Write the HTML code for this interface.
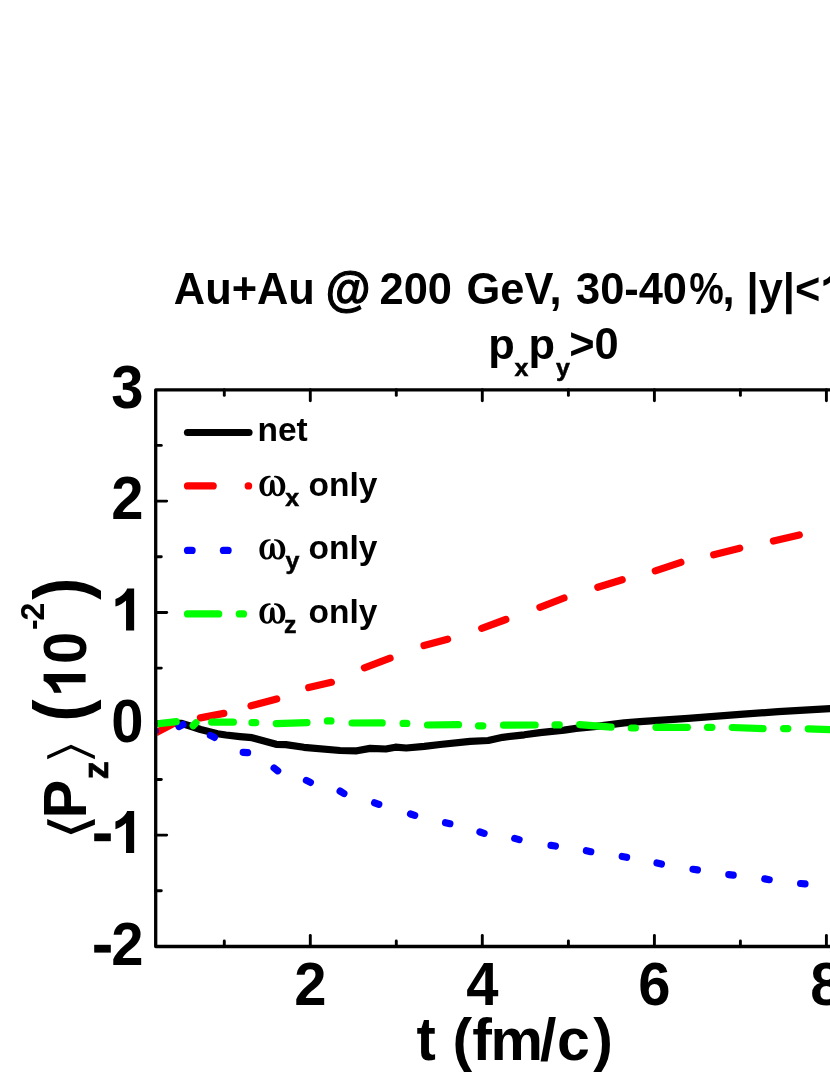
<!DOCTYPE html>
<html><head><meta charset="utf-8">
<style>
html,body{margin:0;padding:0;background:#fff;}
body{width:830px;height:1075px;overflow:hidden;}
svg{display:block;will-change:transform;}
text{font-family:"Liberation Sans",sans-serif;font-weight:bold;fill:#000;}
</style></head><body>
<svg width="830" height="1075" viewBox="0 0 830 1075">
<rect width="830" height="1075" fill="#fff"/>
<defs><clipPath id="plot"><rect x="157.3" y="391.4" width="700" height="553.5"/></clipPath></defs>
<g stroke="#000" stroke-width="2.9" stroke-linecap="round"><line x1="224.3" y1="946.5" x2="224.3" y2="940.9"/><line x1="224.3" y1="389.8" x2="224.3" y2="395.4"/><line x1="310.3" y1="946.5" x2="310.3" y2="935.5"/><line x1="310.3" y1="389.8" x2="310.3" y2="400.8"/><line x1="396.3" y1="946.5" x2="396.3" y2="940.9"/><line x1="396.3" y1="389.8" x2="396.3" y2="395.4"/><line x1="482.3" y1="946.5" x2="482.3" y2="935.5"/><line x1="482.3" y1="389.8" x2="482.3" y2="400.8"/><line x1="568.4" y1="946.5" x2="568.4" y2="940.9"/><line x1="568.4" y1="389.8" x2="568.4" y2="395.4"/><line x1="654.4" y1="946.5" x2="654.4" y2="935.5"/><line x1="654.4" y1="389.8" x2="654.4" y2="400.8"/><line x1="740.4" y1="946.5" x2="740.4" y2="940.9"/><line x1="740.4" y1="389.8" x2="740.4" y2="395.4"/><line x1="826.4" y1="946.5" x2="826.4" y2="935.5"/><line x1="826.4" y1="389.8" x2="826.4" y2="400.8"/><line x1="155.7" y1="890.8" x2="161.3" y2="890.8"/><line x1="155.7" y1="835.1" x2="166.7" y2="835.1"/><line x1="155.7" y1="779.5" x2="161.3" y2="779.5"/><line x1="155.7" y1="723.8" x2="166.7" y2="723.8"/><line x1="155.7" y1="668.1" x2="161.3" y2="668.1"/><line x1="155.7" y1="612.5" x2="166.7" y2="612.5"/><line x1="155.7" y1="556.8" x2="161.3" y2="556.8"/><line x1="155.7" y1="501.1" x2="166.7" y2="501.1"/><line x1="155.7" y1="445.4" x2="161.3" y2="445.4"/></g>
<g clip-path="url(#plot)" fill="none" stroke-linecap="round" stroke-linejoin="round" stroke-width="7.2">
<polyline stroke="#000" points="155,723.5 181,723.3 190,726 200.6,729.5 217.5,733.7 225.9,735 240,736.6 252,737.7 276.1,744.3 285.8,744.6 303.9,747.3 340,750.5 356.9,750.8 370.1,748.4 385.8,749.0 395.4,747.2 406.3,748.0 424.3,746.4 440,744.5 470.1,741.3 488.2,740.5 502.7,737.3 524.3,734.8 540,732.6 564.1,730.1 576.1,728.4 594.2,726.6 624.3,722.9 640,721.7 688.2,718.3 740,714.4 778.2,711.6 836,708.3"/>
<g stroke="#f00"><line x1="153" y1="734.4" x2="173.5" y2="723.6"/><line x1="200.4" y1="717.9" x2="223.8" y2="713.4"/><line x1="251" y1="705.8" x2="276.7" y2="699"/><line x1="308.7" y1="687.6" x2="331.4" y2="682.3"/><line x1="364.4" y1="667.8" x2="390.1" y2="658.2"/><line x1="424" y1="645.5" x2="447.6" y2="639.2"/><line x1="481.7" y1="628.3" x2="505.8" y2="619.5"/><line x1="539.9" y1="607.3" x2="564" y2="598"/><line x1="597.8" y1="587.3" x2="622.2" y2="579.8"/><line x1="655.3" y1="570.8" x2="680.9" y2="562.3"/><line x1="713.7" y1="554.8" x2="739.7" y2="548.2"/><line x1="773.4" y1="541" x2="799.3" y2="534.9"/></g>
<g stroke="#00f"><line x1="150.8" y1="731.6" x2="155.2" y2="730.8"/><line x1="179.0" y1="726.6" x2="183.0" y2="724.6"/><line x1="210.4" y1="735.4" x2="214.4" y2="737.4"/><line x1="243.2" y1="752.3" x2="247.6" y2="752.7"/><line x1="274.1" y1="768.0" x2="277.7" y2="770.8"/><line x1="306.4" y1="780.4" x2="310.4" y2="782.4"/><line x1="340.1" y1="791.1" x2="343.9" y2="793.5"/><line x1="374.6" y1="802.8" x2="378.8" y2="804.4"/><line x1="410.5" y1="814.0" x2="414.7" y2="815.4"/><line x1="445.5" y1="822.7" x2="449.9" y2="823.7"/><line x1="479.9" y1="832.0" x2="484.1" y2="833.4"/><line x1="514.7" y1="838.4" x2="519.1" y2="839.6"/><line x1="551.0" y1="845.4" x2="555.4" y2="846.0"/><line x1="586.4" y1="850.7" x2="590.8" y2="851.7"/><line x1="622.2" y1="856.5" x2="626.6" y2="857.3"/><line x1="657.0" y1="863.0" x2="661.4" y2="864.0"/><line x1="693.0" y1="869.3" x2="697.4" y2="869.9"/><line x1="728.8" y1="874.7" x2="733.2" y2="875.1"/><line x1="764.8" y1="878.9" x2="769.2" y2="879.7"/><line x1="800.6" y1="883.5" x2="805.0" y2="883.9"/></g>
<g stroke="#0f0"><line x1="150" y1="724.6" x2="176.2" y2="721.7"/><line x1="193.2" y1="725.6" x2="196" y2="722.8"/><line x1="211.7" y1="722.2" x2="233.4" y2="722.2"/><line x1="252.0" y1="722.7" x2="255.7" y2="722.7"/><line x1="276.3" y1="723.6" x2="307.0" y2="722.7"/><line x1="327.4" y1="720.9" x2="331.0" y2="720.9"/><line x1="352.1" y1="723.0" x2="382.2" y2="722.9"/><line x1="403.1" y1="723.4" x2="406.8" y2="723.4"/><line x1="427.5" y1="725" x2="458.5" y2="724.7"/><line x1="478.5" y1="725.8" x2="482.8" y2="725.8"/><line x1="503.5" y1="725.2" x2="535.2" y2="725"/><line x1="555.0" y1="724.9" x2="559.3" y2="724.9"/><line x1="579.7" y1="724.6" x2="611.1" y2="727.1"/><line x1="631.3" y1="728" x2="635.4" y2="728"/><line x1="656" y1="727.3" x2="687.4" y2="727.3"/><line x1="707.5" y1="727.3" x2="711.9" y2="727.3"/><line x1="732.3" y1="727.5" x2="763.1" y2="728.7"/><line x1="783.6" y1="728.6" x2="787.8" y2="728.6"/><line x1="808.3" y1="728.8" x2="840" y2="730"/></g>
</g>
<g stroke="#000" fill="none" stroke-width="3.3" stroke-linecap="round" stroke-linejoin="round"><polyline points="840,389.8 155.7,389.8 155.7,946.5 840,946.5"/></g>
<g font-size="58">
<text transform="translate(143.5,407.8) scale(1,1.04)" text-anchor="end">3</text>
<text transform="translate(143.5,519.1) scale(1,1.04)" text-anchor="end">2</text>
<text transform="translate(143.5,741.8) scale(1,1.04)" text-anchor="end">0</text>
<path d="M22.9,0 L22.9,-42 L15.9,-42 C14.3,-37.5 9.5,-33.5 4.2,-31.5 L4.2,-23.9 C8.5,-25.3 12.3,-27.5 14.8,-30.1 L14.8,0 Z" transform="translate(111.24,630.5) scale(1.0000)" fill="#000"/>
<path d="M22.9,0 L22.9,-42 L15.9,-42 C14.3,-37.5 9.5,-33.5 4.2,-31.5 L4.2,-23.9 C8.5,-25.3 12.3,-27.5 14.8,-30.1 L14.8,0 Z" transform="translate(111.24,853.1) scale(1.0000)" fill="#000"/>
<text transform="translate(143.5,964.5) scale(1,1.04)" text-anchor="end">2</text>
<rect x="94.2" y="833.4" width="16.6" height="7.8" fill="#000"/>
<rect x="94.2" y="944.8" width="16.6" height="7.8" fill="#000"/>
<text transform="translate(310.3,1004.5) scale(1,1.04)" text-anchor="middle">2</text>
<text transform="translate(482.3,1004.5) scale(1,1.04)" text-anchor="middle">4</text>
<text transform="translate(654.4,1004.5) scale(1,1.04)" text-anchor="middle">6</text>
<text transform="translate(826.4,1004.5) scale(1,1.04)" text-anchor="middle">8</text>
<text transform="translate(416.5,1059.5) scale(1,1.05)">t</text>
<text transform="translate(452.6,1059.5) scale(1,1.0)" font-size="59">(f<tspan dx="-1.3">m</tspan><tspan dx="-3">/</tspan><tspan dx="0.6">c</tspan><tspan dx="3.4">)</tspan></text>
</g>
<g font-size="43.4">
<text transform="translate(173.8,303.8) scale(1,1.04)">Au+Au</text>
<text transform="translate(325.8,306.3) scale(1.056,1.11)" stroke="#000" stroke-width="1.1">@</text>
<text transform="translate(379.6,303.8) scale(1,1.04)">200 <tspan dx="2.5">GeV,</tspan></text>
<text transform="translate(576.0,303.8) scale(1,1.04)">30-40</text>
<text transform="translate(689.2,303.8) scale(0.896,1.04)">%</text>
<text transform="translate(722.4,303.8) scale(1,1.04)">, |y|&lt;</text>
<path d="M22.9,0 L22.9,-42 L15.9,-42 C14.3,-37.5 9.5,-33.5 4.2,-31.5 L4.2,-23.9 C8.5,-25.3 12.3,-27.5 14.8,-30.1 L14.8,0 Z" transform="translate(820.3,303.8) scale(0.7483)" fill="#000"/>
<text transform="translate(488.2,358.6) scale(1,0.985)">p</text>
<text transform="translate(514.6,376.0) scale(1,0.985)" font-size="25" stroke="#000" stroke-width="0.5">x</text>
<text transform="translate(528.6,358.6) scale(1,0.985)">p</text>
<text transform="translate(556.0,376.0) scale(1,0.985)" font-size="25" stroke="#000" stroke-width="0.5">y</text>
<text transform="translate(569.2,358.6) scale(1,1.04)">&gt;0</text>
</g>
<g fill="none" stroke-linecap="round" stroke-width="7.2">
<line x1="187.5" y1="432.5" x2="249" y2="432.5" stroke="#000"/>
<line x1="187.5" y1="485.9" x2="213.2" y2="485.9" stroke="#f00"/>
<line x1="248.2" y1="485.9" x2="248.6" y2="485.9" stroke="#f00"/>
<line x1="187.5" y1="550.4" x2="192.1" y2="550.4" stroke="#00f"/>
<line x1="223.4" y1="550.4" x2="228.1" y2="550.4" stroke="#00f"/>
<line x1="187.5" y1="613.9" x2="218.7" y2="613.9" stroke="#0f0"/>
<line x1="239.3" y1="613.9" x2="243.5" y2="613.9" stroke="#0f0"/>
</g>
<g font-size="33.5">
<text transform="translate(257.5,441.3) scale(1,0.985)">net</text>
<path d="M270.5,475.9 C264,475.3 259.4,480 259.4,486.6 C259.4,492.5 262.6,496.3 266.9,496.3 C269.8,496.3 271.6,494.6 272.4,492.2 C273.2,494.6 275,496.3 277.9,496.3 C282.2,496.3 285.3,492.5 285.3,486.6 C285.3,480 280.7,475.3 274.2,475.9 L273.9,477.3 C278.2,477.9 280.6,481.3 280.6,486.6 C280.6,491.6 279.4,494.3 277.6,494.3 C275.9,494.3 274.7,492 274.7,487.5 C274.7,482.5 274.3,479.8 272.4,479.8 C270.5,479.8 270,482.5 270,487.5 C270,492 268.9,494.3 267.1,494.3 C265.3,494.3 264.1,491.6 264.1,486.6 C264.1,481.3 266.5,477.9 270.8,477.3 Z" transform="translate(0,0.0)" fill="#000"/>
<text transform="translate(285.2,505.5) scale(1,0.985)" font-size="25" stroke="#000" stroke-width="0.5">x</text>
<text transform="translate(308.6,495.9) scale(1,0.985)">only</text>
<path d="M270.5,475.9 C264,475.3 259.4,480 259.4,486.6 C259.4,492.5 262.6,496.3 266.9,496.3 C269.8,496.3 271.6,494.6 272.4,492.2 C273.2,494.6 275,496.3 277.9,496.3 C282.2,496.3 285.3,492.5 285.3,486.6 C285.3,480 280.7,475.3 274.2,475.9 L273.9,477.3 C278.2,477.9 280.6,481.3 280.6,486.6 C280.6,491.6 279.4,494.3 277.6,494.3 C275.9,494.3 274.7,492 274.7,487.5 C274.7,482.5 274.3,479.8 272.4,479.8 C270.5,479.8 270,482.5 270,487.5 C270,492 268.9,494.3 267.1,494.3 C265.3,494.3 264.1,491.6 264.1,486.6 C264.1,481.3 266.5,477.9 270.8,477.3 Z" transform="translate(0,63.3)" fill="#000"/>
<text transform="translate(285.6,568.8) scale(1,0.985)" font-size="25" stroke="#000" stroke-width="0.5">y</text>
<text transform="translate(308.6,559.2) scale(1,0.985)">only</text>
<path d="M270.5,475.9 C264,475.3 259.4,480 259.4,486.6 C259.4,492.5 262.6,496.3 266.9,496.3 C269.8,496.3 271.6,494.6 272.4,492.2 C273.2,494.6 275,496.3 277.9,496.3 C282.2,496.3 285.3,492.5 285.3,486.6 C285.3,480 280.7,475.3 274.2,475.9 L273.9,477.3 C278.2,477.9 280.6,481.3 280.6,486.6 C280.6,491.6 279.4,494.3 277.6,494.3 C275.9,494.3 274.7,492 274.7,487.5 C274.7,482.5 274.3,479.8 272.4,479.8 C270.5,479.8 270,482.5 270,487.5 C270,492 268.9,494.3 267.1,494.3 C265.3,494.3 264.1,491.6 264.1,486.6 C264.1,481.3 266.5,477.9 270.8,477.3 Z" transform="translate(0,127.5)" fill="#000"/>
<text transform="translate(284.1,633.0) scale(1,0.985)" font-size="25" stroke="#000" stroke-width="0.5">z</text>
<text transform="translate(308.6,623.4) scale(1,0.985)">only</text>
</g>
<text transform="translate(85.6,721.5) rotate(-90) scale(1,1.135)" font-size="66">(</text>
<path d="M22.9,0 L22.9,-42 L15.9,-42 C14.3,-37.5 9.5,-33.5 4.2,-31.5 L4.2,-23.9 C8.5,-25.3 12.3,-27.5 14.8,-30.1 L14.8,0 Z" transform="translate(85.6,697) rotate(-90) scale(1.0000)" fill="#000"/>
<text transform="translate(85.8,664.0) rotate(-90) scale(1,1.04)" font-size="58">0</text>
<text transform="translate(44.3,630) rotate(-90) scale(1,1.04)" font-size="32">-</text>
<text transform="translate(44.3,620.6) rotate(-90) scale(1,1.04)" font-size="32">2</text>
<text transform="translate(85.6,599.8) rotate(-90) scale(1,1.135)" font-size="66">)</text>
<text transform="translate(85.6,818.5) rotate(-90) scale(1,1.04)" font-size="58">P</text>
<text transform="translate(108.1,779.3) rotate(-90) scale(1,0.96)" font-size="36" stroke="#000" stroke-width="0.7">z</text>
<polygon points="47.2,755.5 71,744.8 94.9,755.5 94.9,759.3 71,748.6 47.2,759.3" fill="#000"/>
<polygon points="47.2,819.1 71,828.7 94.9,819.1 94.9,824.7 71,834.3 47.2,824.7" fill="#000"/>
</svg>
</body></html>
